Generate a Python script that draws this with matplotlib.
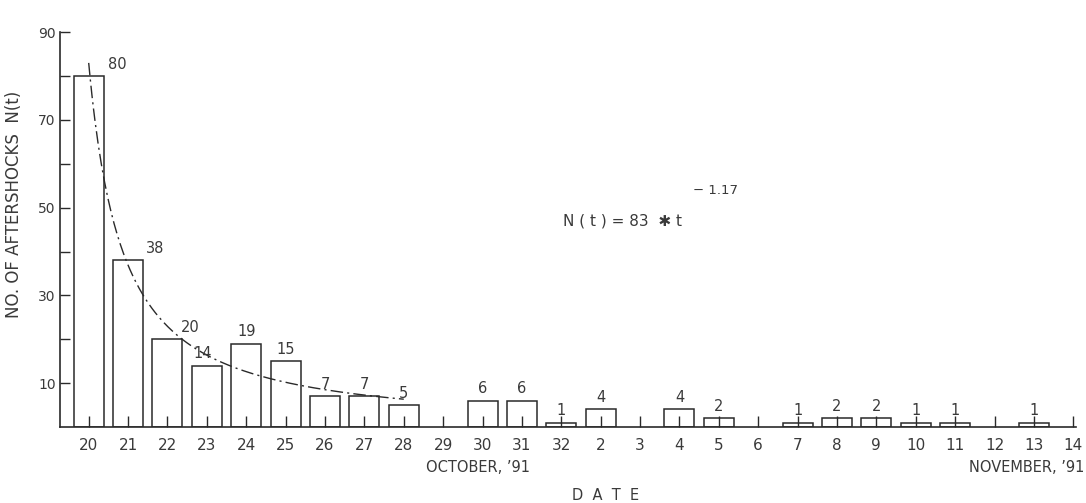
import numpy as np
import matplotlib.pyplot as plt

# dates along the axis: Oct 20..32 then Nov 2..14
dates = ['20', '21', '22', '23', '24', '25', '26', '27', '28', '29', '30', '31', '32',
         '2', '3', '4', '5', '6', '7', '8', '9', '10', '11', '12', '13', '14']
counts = [80, 38, 20, 14, 19, 15, 7, 7, 5, 0, 6, 6, 1,
          4, 0, 4, 2, 0, 1, 2, 2, 1, 1, 0, 1, 0]

# fitted Omori law N(t) = 83 * t^-1.17
A = 83
p = 1.17
t_fit = np.linspace(1, 9, 200)

ink = '#2a2a2a'
txt = '#3a3a3a'

fig = plt.figure(figsize=(10.86, 5.03), dpi=100)
ax = fig.add_axes([0.0552, 0.151, 0.936, 0.785])

x = np.arange(len(dates))
for xi, c in zip(x, counts):
    if c > 0:
        ax.bar(xi, c, width=0.76, facecolor='white', edgecolor=ink, linewidth=1.1)

# bar value labels; the first ones sit to the right of the bar top
shift = {0: 0.55, 1: 0.5, 2: 0.4, 3: -0.1}
for xi, c in zip(x, counts):
    if c > 0:
        dx = shift.get(xi, 0.0)
        ha = 'left' if dx > 0.2 else 'center'
        ax.text(xi + dx - (0.05 if ha == 'left' else 0), c + 1.0, str(c),
                ha=ha, va='bottom', fontsize=10.5, color=txt)

ax.plot(t_fit - 1, A * t_fit ** (-p), color=ink, linewidth=1.0,
        linestyle=(0, (9, 3, 1.5, 3)))

ax.text(12.05, 47, 'N ( t ) = 83  \u2731 t', fontsize=11, color=txt, ha='left', va='center')
ax.text(15.35, 54, '\u2212 1.17', fontsize=9.5, color=txt, ha='left', va='center')

ax.set_xlim(-0.73, 25.08)
ax.set_ylim(0, 90)
ax.set_xticks(x)
ax.set_xticklabels(dates)
ax.set_yticks(np.arange(10, 91, 10))
ax.set_yticklabels(['10', '', '30', '', '50', '', '70', '', '90'])

for s in ['top', 'right']:
    ax.spines[s].set_visible(False)
for s in ['left', 'bottom']:
    ax.spines[s].set_color(ink)
    ax.spines[s].set_linewidth(1.2)

ax.tick_params(axis='x', direction='in', length=8, width=1.0, colors=ink,
               labelcolor=txt, labelsize=11, pad=8)
ax.tick_params(axis='y', direction='in', length=7, width=1.0, colors=ink,
               labelcolor=txt, labelsize=10, pad=3)

ax.set_ylabel('NO. OF AFTERSHOCKS  N(t)', fontsize=12, color=txt, labelpad=6)
ax.yaxis.set_label_coords(-0.036, 0.565)

fig.text(0.44, 0.062, "OCTOBER, \u201991", fontsize=10.5, color=txt, ha='center')
fig.text(0.945, 0.062, "NOVEMBER, \u201991", fontsize=10.5, color=txt, ha='center')
fig.text(0.558, 0.005, 'D  A  T  E', fontsize=10.5, color=txt, ha='center')

fig.savefig('out.png', dpi=100)
